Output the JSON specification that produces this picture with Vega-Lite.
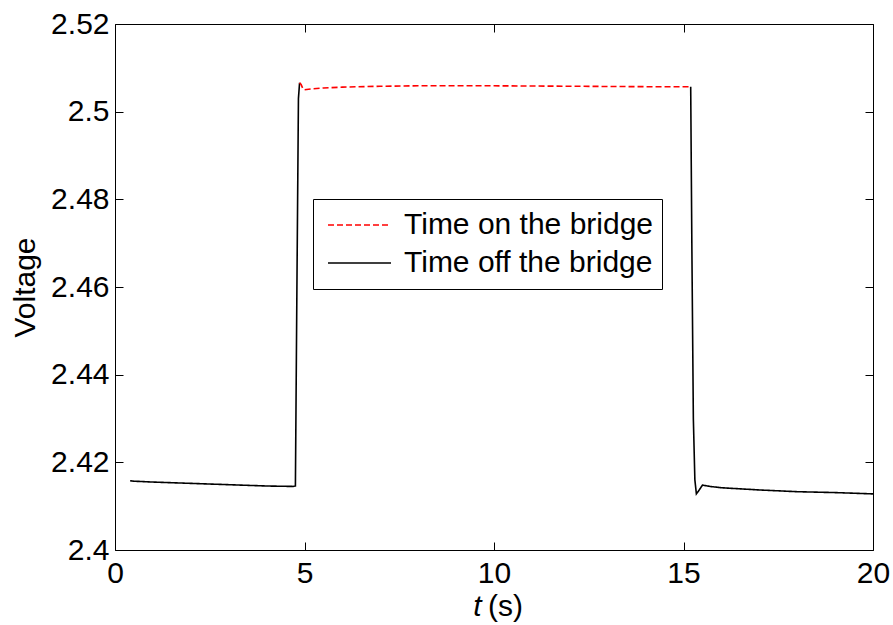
{
  "$schema": "https://vega.github.io/schema/vega-lite/v6.json",
  "width": 758,
  "height": 526,
  "autosize": {"type": "none"},
  "padding": {"left": 115, "top": 24, "right": 20, "bottom": 75},
  "background": "white",
  "config": {
    "view": {"stroke": "black", "strokeWidth": 1},
    "font": "Liberation Sans",
    "axis": {
      "grid": false,
      "domain": false,
      "tickColor": "black",
      "labelColor": "black",
      "titleColor": "black",
      "labelFont": "Liberation Sans",
      "titleFont": "Liberation Sans",
      "labelFontSize": 30,
      "titleFontSize": 30,
      "titleFontWeight": "normal",
      "tickSize": 8,
      "tickWidth": 1,
      "offset": -8
    }
  },
  "data": {
    "values": [
      {"t": 0.4, "v": 2.4158, "series": "Time off the bridge", "seg": "a"},
      {"t": 0.5, "v": 2.4157, "series": "Time off the bridge", "seg": "a"},
      {"t": 1.0, "v": 2.4155, "series": "Time off the bridge", "seg": "a"},
      {"t": 2.0, "v": 2.4152, "series": "Time off the bridge", "seg": "a"},
      {"t": 3.0, "v": 2.4149, "series": "Time off the bridge", "seg": "a"},
      {"t": 4.0, "v": 2.4146, "series": "Time off the bridge", "seg": "a"},
      {"t": 4.7, "v": 2.4145, "series": "Time off the bridge", "seg": "a"},
      {"t": 4.76, "v": 2.4146, "series": "Time off the bridge", "seg": "a"},
      {"t": 4.8, "v": 2.46, "series": "Time off the bridge", "seg": "a"},
      {"t": 4.84, "v": 2.503, "series": "Time off the bridge", "seg": "a"},
      {"t": 4.87, "v": 2.5066, "series": "Time off the bridge", "seg": "a"},
      {"t": 4.87, "v": 2.5066, "series": "Time on the bridge", "seg": "r"},
      {"t": 4.91, "v": 2.5062, "series": "Time on the bridge", "seg": "r"},
      {"t": 4.96, "v": 2.5052, "series": "Time on the bridge", "seg": "r"},
      {"t": 5.0, "v": 2.505, "series": "Time on the bridge", "seg": "r"},
      {"t": 5.2, "v": 2.5052, "series": "Time on the bridge", "seg": "r"},
      {"t": 5.5, "v": 2.5054, "series": "Time on the bridge", "seg": "r"},
      {"t": 6.0, "v": 2.5056, "series": "Time on the bridge", "seg": "r"},
      {"t": 7.0, "v": 2.5058, "series": "Time on the bridge", "seg": "r"},
      {"t": 8.0, "v": 2.5059, "series": "Time on the bridge", "seg": "r"},
      {"t": 10.0, "v": 2.5059, "series": "Time on the bridge", "seg": "r"},
      {"t": 12.0, "v": 2.5058, "series": "Time on the bridge", "seg": "r"},
      {"t": 14.0, "v": 2.5057, "series": "Time on the bridge", "seg": "r"},
      {"t": 15.19, "v": 2.5057, "series": "Time on the bridge", "seg": "r"},
      {"t": 15.19, "v": 2.5057, "series": "Time off the bridge", "seg": "b"},
      {"t": 15.22, "v": 2.47, "series": "Time off the bridge", "seg": "b"},
      {"t": 15.26, "v": 2.43, "series": "Time off the bridge", "seg": "b"},
      {"t": 15.3, "v": 2.416, "series": "Time off the bridge", "seg": "b"},
      {"t": 15.34, "v": 2.4128, "series": "Time off the bridge", "seg": "b"},
      {"t": 15.4, "v": 2.4135, "series": "Time off the bridge", "seg": "b"},
      {"t": 15.5, "v": 2.4148, "series": "Time off the bridge", "seg": "b"},
      {"t": 15.7, "v": 2.4145, "series": "Time off the bridge", "seg": "b"},
      {"t": 16.0, "v": 2.4142, "series": "Time off the bridge", "seg": "b"},
      {"t": 17.0, "v": 2.4137, "series": "Time off the bridge", "seg": "b"},
      {"t": 18.0, "v": 2.4133, "series": "Time off the bridge", "seg": "b"},
      {"t": 19.0, "v": 2.4131, "series": "Time off the bridge", "seg": "b"},
      {"t": 20.0, "v": 2.4128, "series": "Time off the bridge", "seg": "b"}
    ]
  },
  "layer": [
    {
      "mark": {"type": "line", "strokeWidth": 1.6, "clip": true},
      "encoding": {
        "x": {
          "field": "t", "type": "quantitative",
          "scale": {"domain": [0, 20], "nice": false, "zero": false},
          "axis": {"values": [0, 5, 10, 15, 20], "labelPadding": 8, "title": "(s)", "titleX": 390, "titleY": 73, "titleBaseline": "alphabetic", "labelFlush": false}
        },
        "y": {
          "field": "v", "type": "quantitative",
          "scale": {"domain": [2.4, 2.52], "nice": false, "zero": false},
          "axis": {"values": [2.4, 2.42, 2.44, 2.46, 2.48, 2.5, 2.52], "format": "~g", "labelPadding": 6, "title": "Voltage", "titleX": -83, "titleY": 263}
        },
        "color": {
          "field": "series", "type": "nominal",
          "scale": {"domain": ["Time on the bridge", "Time off the bridge"], "range": ["#ff0000", "#000000"]},
          "legend": {
            "orient": "none", "legendX": 198, "legendY": 175, "title": null,
            "strokeColor": "black", "fillColor": "white", "padding": 8,
            "labelFontSize": 30, "labelFont": "Liberation Sans", "labelColor": "black", "labelLimit": 500,
            "symbolType": "stroke", "symbolSize": 3969, "symbolStrokeWidth": 1.5,
            "clipHeight": 36, "rowPadding": 2, "labelOffset": 12, "symbolOffset": 6
          }
        },
        "strokeDash": {
          "field": "series", "type": "nominal",
          "scale": {"domain": ["Time on the bridge", "Time off the bridge"], "range": [[6, 3], [1, 0]]},
          "legend": {
            "orient": "none", "legendX": 198, "legendY": 175, "title": null,
            "strokeColor": "black", "fillColor": "white", "padding": 8,
            "labelFontSize": 30, "labelFont": "Liberation Sans", "labelColor": "black", "labelLimit": 500,
            "symbolType": "stroke", "symbolSize": 3969, "symbolStrokeWidth": 1.5,
            "clipHeight": 36, "rowPadding": 2, "labelOffset": 12, "symbolOffset": 6
          }
        },
        "detail": {"field": "seg"}
      }
    },
    {
      "mark": {"type": "line", "opacity": 0},
      "encoding": {
        "x": {
          "field": "t", "type": "quantitative",
          "axis": {"orient": "top", "values": [0, 5, 10, 15, 20], "labels": false, "title": "t", "titleFontStyle": "italic", "titleX": 362, "titleY": 583, "titleBaseline": "alphabetic"}
        },
        "y": {
          "field": "v", "type": "quantitative",
          "axis": {"orient": "right", "values": [2.4, 2.42, 2.44, 2.46, 2.48, 2.5, 2.52], "labels": false, "title": null}
        },
        "detail": {"field": "seg"}
      }
    }
  ],
  "resolve": {"axis": {"x": "independent", "y": "independent"}}
}
